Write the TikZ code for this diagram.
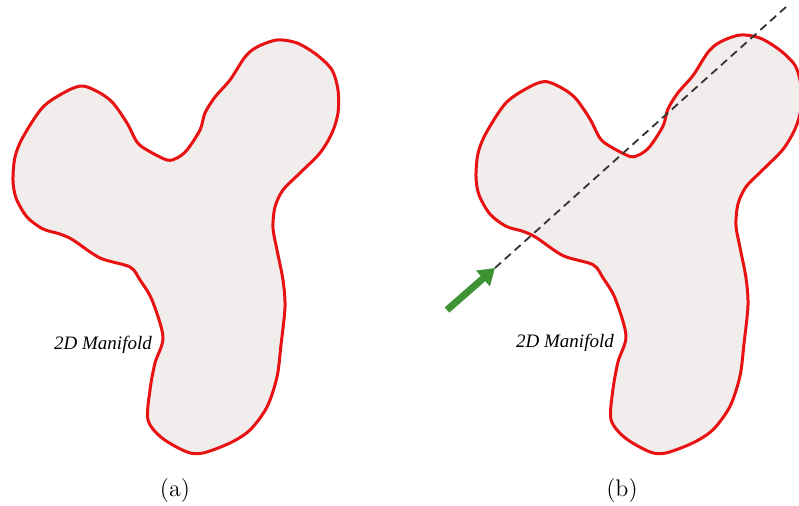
\documentclass[tikz,border=0pt]{standalone}
\usepackage{fontspec}
\setmainfont{Liberation Serif}
\newfontfamily\lmfont{Latin Modern Roman}
\usetikzlibrary{arrows.meta}
\definecolor{blobfill}{RGB}{240,237,236}
\definecolor{blobedge}{RGB}{232,18,18}
\definecolor{arrowgreen}{RGB}{62,148,52}
\tikzset{
  manifold/.style={draw=blobedge, fill=blobfill, line width=1.5pt, line join=round},
  maniflabel/.style={font=\fontsize{9.5}{11}\selectfont\itshape, inner sep=0pt},
  sublabel/.style={font=\lmfont\fontsize{12}{14}\selectfont, inner sep=0pt},
  ray/.style={black!80, line width=0.9pt, dash pattern=on 4pt off 2.6pt},
  probe/.style={arrowgreen, line width=3.5pt, -{Triangle[length=8pt,width=10pt]}}
}
% outline of the Y-shaped 2D manifold (pixel-like units, y pointing down)
\newcommand{\manifoldpath}{%
  plot[smooth cycle, tension=0.5] coordinates {
    (277,40) (297,43) (317,55) (332,70) (338,90) (338,113) (332,133)
    (320,153) (300,173) (283,190) (275,207) (273,228) (277,250) (283,280)
    (285,307) (281,345) (277,377) (267,407) (250,430) (230,443) (203,453)
    (187,452) (162,438) (148,420) (150,390) (155,363) (163,337) (152,300)
    (140,280) (130,267) (100,258) (73,240) (60,234) (43,229) (27,217)
    (16,198) (13,180) (15,157) (23,137) (43,107) (67,91) (83,86)
    (100,93) (113,103) (127,123) (137,142) (147,150) (167,160) (177,158)
    (187,150) (200,130) (205,113) (215,97) (230,80) (245,57) (257,47)}}
\begin{document}
\begin{tikzpicture}[x=0.5pt, y=-0.5pt]
  \useasboundingbox (0,0) rectangle (799,506);
  \clip (0,0) rectangle (799,506);
  % (a) the manifold alone
  \path[manifold] \manifoldpath;
  \node[maniflabel] (labA) at (103,345) {2D Manifold};
  \node[sublabel] (capA) at (175,491) {(a)};
  % (b) the same manifold crossed by a ray
  \begin{scope}[shift={(463,455)}, yscale=1.012, shift={(0,-455)}]
    \path[manifold] \manifoldpath;
  \end{scope}
  \node[maniflabel] (labB) at (565,343) {2D Manifold};
  \node[sublabel] (capB) at (622,491) {(b)};
  \coordinate (entry) at (495,268);
  \coordinate (far) at (786,7);
  \coordinate (tail) at (447,310);
  \draw[ray] (entry) -- (far);
  \draw[probe] (tail) -- (entry);
\end{tikzpicture}
\end{document}
